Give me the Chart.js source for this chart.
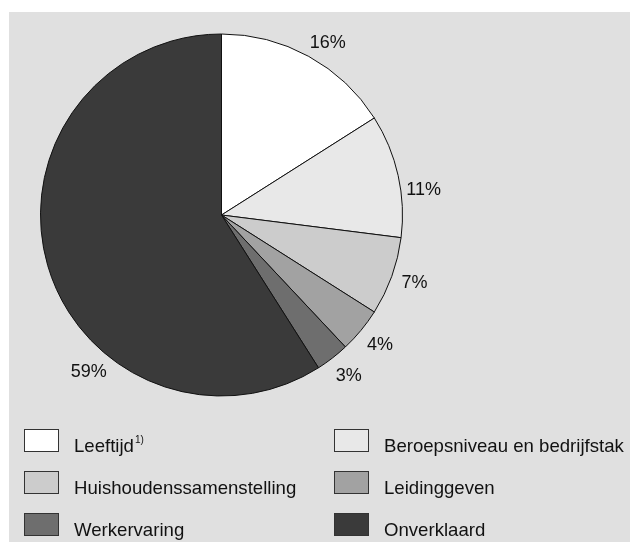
<!DOCTYPE html>
<html>
<head>
<meta charset="utf-8">
<script src="https://cdn.jsdelivr.net/npm/chart.js@4"></script>
<style>
  html, body { margin: 0; padding: 0; background: #fff; }
  canvas { display: block; }
</style>
</head>
<body>
<canvas id="pieChart" width="630" height="542"></canvas>
<script>
// Data
const categories = ['Leeftijd', 'Beroepsniveau en bedrijfstak', 'Huishoudenssamenstelling', 'Leidinggeven', 'Werkervaring', 'Onverklaard'];
const footnotes = ['1)', '', '', '', '', ''];
const shares = [16, 11, 7, 4, 3, 59];
const sliceColors = ['#ffffff', '#e8e8e8', '#cccccc', '#a2a2a2', '#6e6e6e', '#3a3a3a'];

const FONT = '"Liberation Sans", Arial, Helvetica, sans-serif';
const DEG = Math.PI / 180;

// gray panel behind everything
const panelBg = {
    id: 'panelBg',
    beforeDraw(chart) {
        const c = chart.ctx;
        c.save();
        c.fillStyle = '#ffffff';
        c.fillRect(0, 0, chart.width, chart.height);
        c.fillStyle = '#e0e0e0';
        c.fillRect(9, 12, chart.width - 9, chart.height - 12);
        c.restore();
    }
};

// percentage labels outside the slices
const outsideLabels = {
    id: 'outsideLabels',
    afterDatasetsDraw(chart, args, opts) {
        const c = chart.ctx;
        const arcs = chart.getDatasetMeta(0).data;
        c.save();
        c.font = '18px ' + FONT;
        c.fillStyle = '#111';
        c.textAlign = 'center';
        c.textBaseline = 'middle';
        arcs.forEach((arc, i) => {
            let a = (arc.startAngle + arc.endAngle) / 2 + (opts.nudge[i] || 0) * DEG;
            if (shares[i] > 50) a = opts.bigAngle * DEG;
            const r = arc.outerRadius + 23;
            c.fillText(shares[i] + '%', arc.x + Math.cos(a) * r, arc.y + Math.sin(a) * r + 2);
        });
        c.restore();
    }
};

// two-column legend at the bottom
const boxLegend = {
    id: 'boxLegend',
    afterDraw(chart) {
        const c = chart.ctx;
        c.save();
        categories.forEach((name, i) => {
            const col = i % 2, row = Math.floor(i / 2);
            const x = col === 0 ? 24 : 334;
            const y = 429 + row * 42;
            c.fillStyle = sliceColors[i];
            c.fillRect(x, y, 35, 23);
            c.strokeStyle = '#333';
            c.lineWidth = 1;
            c.strokeRect(x + 0.5, y + 0.5, 34, 22);
            c.fillStyle = '#111';
            c.font = '18.6px ' + FONT;
            c.textAlign = 'left';
            c.textBaseline = 'alphabetic';
            c.fillText(name, x + 50, y + 23);
            if (footnotes[i]) {
                const w = c.measureText(name).width;
                c.font = '10px ' + FONT;
                c.fillText(footnotes[i], x + 51 + w, y + 14);
            }
        });
        c.restore();
    }
};

new Chart(document.getElementById('pieChart'), {
    type: 'pie',
    data: {
        labels: categories,
        datasets: [{
            data: shares,
            backgroundColor: sliceColors,
            borderColor: '#111',
            borderWidth: 1
        }]
    },
    options: {
        responsive: false,
        animation: false,
        devicePixelRatio: 1,
        layout: { padding: { left: 40, top: 33, right: 227, bottom: 145 } },
        plugins: {
            legend: { display: false },
            tooltip: { enabled: false },
            outsideLabels: { nudge: [2.6, 5, -1, -0.6, -0.8, 0], bigAngle: 130.6 }
        }
    },
    plugins: [panelBg, outsideLabels, boxLegend]
});
</script>
</body>
</html>
